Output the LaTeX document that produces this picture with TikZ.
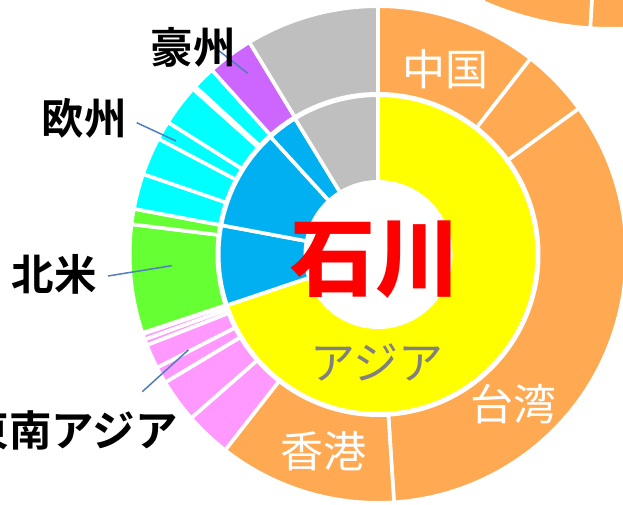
\documentclass[tikz,border=0pt]{standalone}
\usepackage{fontspec}
\newfontfamily\cjk{Noto Sans CJK JP}[BoldFont={Noto Sans CJK JP Bold}]
\newfontfamily\cjkheavy{Noto Sans CJK JP Black}
\definecolor{orangeS}{HTML}{FFA953}
\definecolor{blueS}{HTML}{00B0F0}
\definecolor{grayS}{HTML}{BFBFBF}
\definecolor{cyanS}{HTML}{00FFFF}
\definecolor{greenS}{HTML}{66FF33}
\definecolor{pinkS}{HTML}{FF99FF}
\definecolor{purpleS}{HTML}{CC66FF}
\definecolor{yellowS}{HTML}{FFFF00}
\definecolor{redS}{HTML}{FF0000}
\definecolor{grayT}{HTML}{808080}
\definecolor{leaderS}{HTML}{4F7FBF}
\newcommand{\sectorS}[5]{%
  \path[fill=#5,draw=white,line width=3.6bp,line join=miter]
    ({90-#3}:#1 bp) arc[start angle={90-#3},end angle={90-#4},radius=#1 bp]
    -- ({90-#4}:#2 bp) arc[start angle={90-#4},end angle={90-#3},radius=#2 bp] -- cycle;}
\newcommand{\outerS}[3]{\sectorS{248.3}{160.7}{#1}{#2}{#3}}
\newcommand{\innerS}[3]{\sectorS{159.3}{72.7}{#1}{#2}{#3}}
\tikzset{
  region/.style={font=\cjk\bfseries\fontsize{42.5bp}{47bp}\selectfont,text=black,inner sep=0pt},
  inring/.style={font=\cjk\fontsize{43bp}{47bp}\selectfont,text=white,inner sep=0pt},
  leader/.style={draw=leaderS,line width=1.5bp},
}
\begin{document}
\begin{tikzpicture}[x=1bp,y=-1bp]
\path[use as bounding box,clip] (0,0) rectangle (623,505);
\fill[white] (0,0) rectangle (623,505);
% neighbouring chart fragment
\begin{scope}[shift={(610,-285)},y=1bp]
  \sectorS{313.8}{200}{204}{183.6}{orangeS}
  \sectorS{313.8}{200}{183.6}{170}{orangeS}
\end{scope}
\begin{scope}[shift={(378,254.5)},y=1bp]
  % outer ring
  \outerS{0}{37.9}{orangeS}
  \outerS{37.9}{54}{orangeS}
  \outerS{54}{176.3}{orangeS}
  \outerS{176.3}{218}{orangeS}
  \outerS{218}{228.8}{pinkS}
  \outerS{228.8}{239}{pinkS}
  \outerS{239}{242.9}{pinkS}
  \outerS{242.9}{248.6}{pinkS}
  \outerS{248.6}{250}{pinkS}
  \outerS{250}{251.3}{pinkS}
  \outerS{251.6}{277}{greenS}
  \outerS{277}{280.6}{greenS}
  \outerS{280.6}{288.9}{cyanS}
  \outerS{288.9}{297.8}{cyanS}
  \outerS{297.8}{302.2}{cyanS}
  \outerS{302.2}{311.8}{cyanS}
  \outerS{312.6}{318}{cyanS}
  \outerS{318}{328.8}{purpleS}
  \outerS{328.8}{360}{grayS}
  % inner ring
  \innerS{0}{251.4}{yellowS}
  \innerS{251.4}{280.6}{blueS}
  \innerS{280.6}{317.6}{blueS}
  \innerS{317.6}{328.6}{blueS}
  \innerS{328.6}{360}{grayS}
\end{scope}
% leader lines
\coordinate (auS) at (209,43);   \coordinate (auE) at (247.7,73.3);
\coordinate (euS) at (136.7,122.7); \coordinate (euE) at (176,141);
\coordinate (naS) at (108,276);  \coordinate (naE) at (171.7,265.7);
\coordinate (seS) at (142.3,391.7); \coordinate (seE) at (188.3,350);
\draw[leader] (auS) -- (auE);
\draw[leader] (euS) -- (euE);
\draw[leader] (naS) -- (naE);
\draw[leader] (seS) -- (seE);
% labels
\node[region] (au) at (193,47) {豪州};
\node[region] (eu) at (84,118) {欧州};
\node[region] (na) at (54,274) {北米};
\node[region,anchor=east] (se) at (178,430) {東南アジア};
\node[inring] (cn) at (445,69) {中国};
\node[inring] (tw) at (513,404) {台湾};
\node[inring] (hk) at (323,451) {香港};
\node[font=\cjk\fontsize{45bp}{49bp}\selectfont,text=grayT,inner sep=0pt] (asia) at (377,362) {アジア};
\node[font=\cjkheavy\fontsize{85bp}{92bp}\selectfont,text=redS,inner sep=0pt] (title) at (375,260) {石川};
\end{tikzpicture}
\end{document}
